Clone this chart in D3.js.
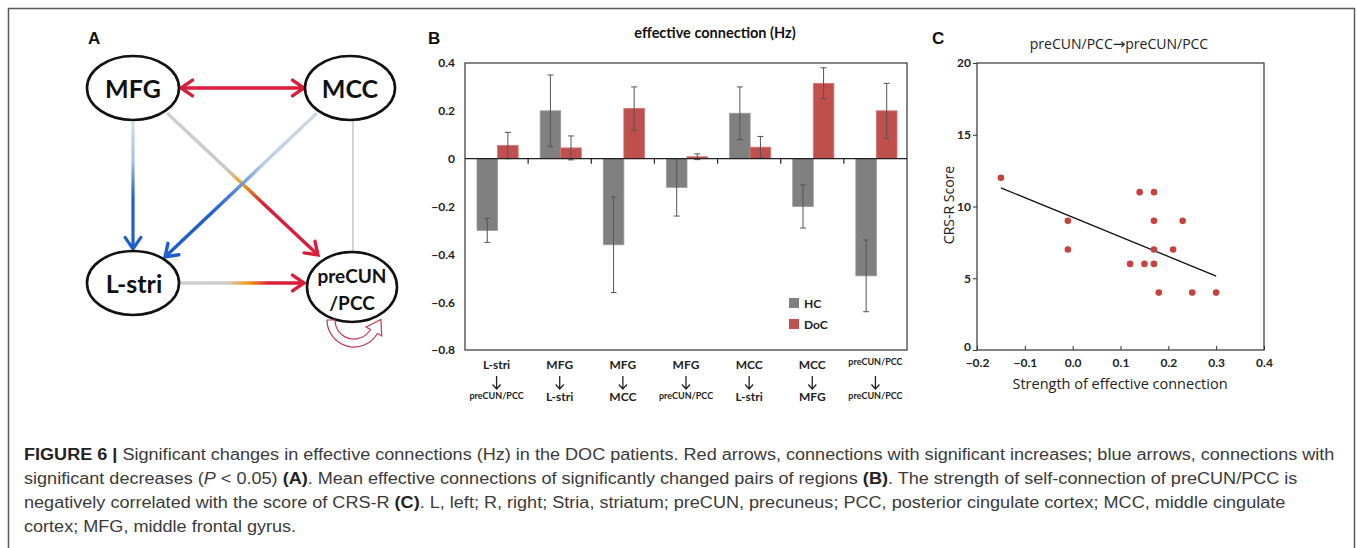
<!DOCTYPE html>
<html>
<head>
<meta charset="utf-8">
<script src="https://cdn.jsdelivr.net/npm/d3@7"></script>
<style>
  html, body { margin: 0; padding: 0; background: #fff; }
  svg { display: block; }
</style>
</head>
<body>
<div id="chart"></div>
<script>
// ---- panel B data ----
const pairFrom = ["L-stri", "MFG", "MFG", "MFG", "MCC", "MCC", "preCUN/PCC"];
const pairTo = ["preCUN/PCC", "L-stri", "MCC", "preCUN/PCC", "L-stri", "MFG", "preCUN/PCC"];
const hcMean = [-0.30, 0.20, -0.36, -0.12, 0.19, -0.20, -0.49];
const hcErr = [0.05, 0.15, 0.20, 0.12, 0.11, 0.09, 0.15];
const docMean = [0.055, 0.045, 0.21, 0.008, 0.048, 0.315, 0.20];
const docErr = [0.055, 0.05, 0.09, 0.012, 0.045, 0.065, 0.115];
const barTicks = [0.4, 0.2, 0, -0.2, -0.4, -0.6, -0.8];
const groups = ["HC", "DoC"];

// ---- panel C data ----
const strength = [-0.15, -0.01, -0.01, 0.12, 0.14, 0.15, 0.17, 0.17, 0.17, 0.17, 0.18, 0.21, 0.23, 0.25, 0.30];
const crsr = [12, 9, 7, 6, 11, 6, 11, 9, 7, 6, 4, 7, 9, 4, 4];
const fitX = [-0.15, 0.30];
const fitY = [11.3, 5.15];
const xTicksC = [-0.2, -0.1, 0.0, 0.1, 0.2, 0.3, 0.4];
const yTicksC = [0, 5, 10, 15, 20];

const W = 1357, H = 548;
const GRAY = "#808080", RED = "#c0504d";
const LABEL_FONT = "Lato, 'Open Sans', sans-serif";
const ARROW_RED = "#d91d3a", ARROW_BLUE = "#1e5fc9";

const svg = d3.select("#chart").append("svg")
  .attr("width", W).attr("height", H)
  .attr("viewBox", `0 0 ${W} ${H}`);
const defs = svg.append("defs");

svg.append("rect").attr("width", W).attr("height", H).attr("fill", "#fff");
svg.append("rect")
  .attr("x", 8.5).attr("y", 8.5).attr("width", 1346).attr("height", 620)
  .attr("fill", "none").attr("stroke", "#5a5a5a").attr("stroke-width", 1.5);

// panel letters
[["A", 88], ["B", 428], ["C", 932]].forEach(([t, x]) => {
  svg.append("text").attr("x", x).attr("y", 44).text(t)
    .attr("font-family", "Liberation Sans, Arial, sans-serif")
    .attr("font-weight", "bold").attr("font-size", 17).attr("fill", "#111");
});

// =================== Panel A: network diagram ===================
const A = svg.append("g");
const nodes = {
  MFG: { x: 133, y: 88, rx: 46, ry: 32 },
  MCC: { x: 350, y: 88, rx: 45, ry: 32 },
  LS: { x: 133, y: 283, rx: 46, ry: 32 },
  PC: { x: 352, y: 287, rx: 45, ry: 35 }
};

let gradId = 0;
function gradLine(x1, y1, x2, y2, stops, width, head) {
  const id = "g" + (gradId++);
  const lg = defs.append("linearGradient").attr("id", id)
    .attr("gradientUnits", "userSpaceOnUse")
    .attr("x1", x1).attr("y1", y1).attr("x2", x2).attr("y2", y2);
  stops.forEach(([o, c]) => lg.append("stop").attr("offset", o).attr("stop-color", c));
  A.append("line").attr("x1", x1).attr("y1", y1).attr("x2", x2).attr("y2", y2)
    .attr("stroke", `url(#${id})`).attr("stroke-width", width);
  if (head) chevron(x2, y2, Math.atan2(y2 - y1, x2 - x1), head, width);
}

function chevron(x, y, ang, color, width) {
  const len = 14, spread = 0.6;
  const p1 = [x - len * Math.cos(ang - spread), y - len * Math.sin(ang - spread)];
  const p2 = [x - len * Math.cos(ang + spread), y - len * Math.sin(ang + spread)];
  A.append("path")
    .attr("d", `M${p1[0]},${p1[1]}L${x},${y}L${p2[0]},${p2[1]}`)
    .attr("fill", "none").attr("stroke", color).attr("stroke-width", width)
    .attr("stroke-linejoin", "miter").attr("stroke-linecap", "round");
}

// MCC - preCUN thin gray
A.append("line").attr("x1", 353).attr("y1", 120).attr("x2", 353).attr("y2", 253)
  .attr("stroke", "#c9c9c9").attr("stroke-width", 1.6);

// MFG -> L-stri (blue)
gradLine(133, 122, 133, 249, [[0, "#cfdcee"], [0.3, "#a9c3e6"], [0.6, ARROW_BLUE], [1, ARROW_BLUE]], 3.2, ARROW_BLUE);
// MFG -> preCUN (gray -> orange -> red)
gradLine(167, 113, 318, 255, [[0, "#d0d0d0"], [0.4, "#c8c8c8"], [0.5, "#f0a010"], [0.64, ARROW_RED], [1, ARROW_RED]], 3.4, ARROW_RED);
// MCC -> L-stri (light -> blue)
gradLine(317, 113, 165, 257, [[0, "#d4d8de"], [0.35, "#b8cdea"], [0.55, "#4f86d4"], [0.7, ARROW_BLUE], [1, ARROW_BLUE]], 3.4, ARROW_BLUE);
// L-stri -> preCUN
gradLine(180, 283, 304, 283, [[0, "#cfcfcf"], [0.38, "#cdcdcd"], [0.55, "#f0a010"], [0.72, ARROW_RED], [1, ARROW_RED]], 3.4, ARROW_RED);
// MFG <-> MCC
A.append("line").attr("x1", 181).attr("y1", 88).attr("x2", 304).attr("y2", 88)
  .attr("stroke", ARROW_RED).attr("stroke-width", 3.4);
chevron(304, 88, 0, ARROW_RED, 3.4);
chevron(181, 88, Math.PI, ARROW_RED, 3.4);

// ellipses
Object.values(nodes).forEach(n => {
  A.append("ellipse").attr("cx", n.x).attr("cy", n.y).attr("rx", n.rx).attr("ry", n.ry)
    .attr("fill", "#fff").attr("stroke", "#111").attr("stroke-width", 2.6);
});
function nodeText(x, y, t, size) {
  A.append("text").attr("x", x).attr("y", y).text(t)
    .attr("text-anchor", "middle").attr("dominant-baseline", "central")
    .attr("font-family", LABEL_FONT).attr("font-weight", "bold")
    .attr("font-size", size).attr("fill", "#111");
}
nodeText(133, 88, "MFG", 25);
nodeText(350, 88, "MCC", 25);
nodeText(134, 283, "L-stri", 25);
nodeText(352, 275, "preCUN", 19);
nodeText(352, 302, "/PCC", 19);

// self-connection loop (hollow curved arrow)
(function () {
  const cx = 354, cy = 320, ro = 27, ri = 19, a0 = Math.PI, a1 = Math.PI / 6;
  const pt = (r, a) => [cx + r * Math.cos(a), cy + r * Math.sin(a)];
  const o0 = pt(ro, a0), o1 = pt(ro, a1), i1 = pt(ri, a1), i0 = pt(ri, a0);
  const bo = pt(ro + 5, a1), bi = pt(ri - 5, a1), mid = pt((ro + ri) / 2, a1);
  const tip = [mid[0] + 14 * Math.sin(a1), mid[1] - 14 * Math.cos(a1)];
  const d = `M${o0}A${ro},${ro} 0 0 0 ${o1}L${bo}L${tip}L${bi}L${i1}A${ri},${ri} 0 0 1 ${i0}Z`;
  A.append("path").attr("d", d).attr("fill", "#fff")
    .attr("stroke", "#c23a50").attr("stroke-width", 1.2);
})();

// =================== Panel B: bar chart ===================
const bL = 465, bR = 907, bT = 63, bB = 350;
const xB = d3.scaleBand().domain(d3.range(pairFrom.length)).range([bL, bR]);
const xSub = d3.scaleBand().domain(groups).range([12, xB.bandwidth() - 10]);
const yB = d3.scaleLinear().domain([-0.8, 0.4]).range([bB, bT]);
const B = svg.append("g");

B.append("text").attr("x", 715).attr("y", 38).text("effective connection (Hz)")
  .attr("text-anchor", "middle").attr("font-family", LABEL_FONT)
  .attr("font-weight", "bold").attr("font-size", 14.5).attr("fill", "#111");

const barData = [];
pairFrom.forEach((p, i) => {
  barData.push({ i, g: "HC", v: hcMean[i], e: hcErr[i] });
  barData.push({ i, g: "DoC", v: docMean[i], e: docErr[i] });
});

B.selectAll("rect.bar").data(barData).join("rect")
  .attr("class", "bar")
  .attr("x", d => xB(d.i) + xSub(d.g))
  .attr("width", xSub.bandwidth())
  .attr("y", d => yB(Math.max(0, d.v)))
  .attr("height", d => Math.abs(yB(d.v) - yB(0)))
  .attr("fill", d => d.g === "HC" ? GRAY : RED)
  .attr("stroke", d => d.g === "HC" ? "#9a9a9a" : "#d27370").attr("stroke-width", 0.8);

// error bars
const eb = B.selectAll("g.err").data(barData).join("g").attr("class", "err")
  .attr("transform", d => `translate(${xB(d.i) + xSub(d.g) + xSub.bandwidth() / 2},0)`);
eb.append("line").attr("y1", d => yB(d.v + d.e)).attr("y2", d => yB(d.v - d.e))
  .attr("stroke", "#555").attr("stroke-width", 1);
eb.append("line").attr("x1", -3).attr("x2", 3).attr("y1", d => yB(d.v + d.e)).attr("y2", d => yB(d.v + d.e))
  .attr("stroke", "#555").attr("stroke-width", 1);
eb.append("line").attr("x1", -3).attr("x2", 3).attr("y1", d => yB(d.v - d.e)).attr("y2", d => yB(d.v - d.e))
  .attr("stroke", "#555").attr("stroke-width", 1);

// frame + zero line
B.append("rect").attr("x", bL).attr("y", bT).attr("width", bR - bL).attr("height", bB - bT)
  .attr("fill", "none").attr("stroke", "#333").attr("stroke-width", 1.2);
B.append("line").attr("x1", bL).attr("x2", bR).attr("y1", yB(0)).attr("y2", yB(0))
  .attr("stroke", "#222").attr("stroke-width", 1.2);
B.selectAll("line.cat").data(d3.range(1, pairFrom.length)).join("line")
  .attr("class", "cat")
  .attr("x1", d => xB(d)).attr("x2", d => xB(d))
  .attr("y1", yB(0)).attr("y2", yB(0) + 5)
  .attr("stroke", "#222").attr("stroke-width", 1.2);

// y axis labels
const yAxisB = d3.axisLeft(yB).tickValues(barTicks).tickSize(0).tickPadding(10)
  .tickFormat(d => d === 0 ? "0" : d3.format(".1f")(d));
B.append("g").attr("transform", `translate(${bL},0)`).call(yAxisB)
  .call(g => g.select(".domain").remove())
  .call(g => g.selectAll("text").attr("font-family", LABEL_FONT)
    .attr("font-weight", "bold").attr("font-size", 12).attr("fill", "#222"));

// category labels
const catG = B.selectAll("g.catlab").data(d3.range(pairFrom.length)).join("g")
  .attr("class", "catlab")
  .attr("transform", i => `translate(${xB(i) + xB.bandwidth() / 2},0)`)
  .attr("font-family", LABEL_FONT).attr("font-weight", "bold").attr("fill", "#222")
  .attr("text-anchor", "middle");
catG.append("text").attr("y", i => pairFrom[i].length > 6 ? 365 : 369)
  .attr("font-size", i => pairFrom[i].length > 6 ? 9 : 12).text(i => pairFrom[i]);
catG.append("path").attr("d", "M0,376V389M-4,384.5L0,389L4,384.5")
  .attr("fill", "none").attr("stroke", "#222").attr("stroke-width", 1.3);
catG.append("text").attr("y", i => pairTo[i].length > 6 ? 399 : 401)
  .attr("font-size", i => pairTo[i].length > 6 ? 9 : 12).text(i => pairTo[i]);

// legend
const leg = B.selectAll("g.leg").data(groups).join("g").attr("class", "leg")
  .attr("transform", (d, i) => `translate(789,${298 + i * 21})`);
leg.append("rect").attr("width", 10).attr("height", 10)
  .attr("fill", d => d === "HC" ? GRAY : RED);
leg.append("text").attr("x", 15).attr("y", 5).attr("dominant-baseline", "central")
  .attr("font-family", LABEL_FONT).attr("font-weight", "bold").attr("font-size", 12)
  .attr("fill", "#222").text(d => d);

// =================== Panel C: scatter ===================
const cL = 977, cR = 1264, cT = 63, cB = 350;
const xC = d3.scaleLinear().domain([-0.2, 0.4]).range([cL, cR]);
const yC = d3.scaleLinear().domain([0, 20]).range([cB, cT]);
const C = svg.append("g");

const cTitle = C.append("text").attr("x", 1119).attr("y", 49)
  .attr("text-anchor", "middle").attr("font-family", "'Open Sans', sans-serif")
  .attr("font-size", 14).attr("fill", "#222");
cTitle.append("tspan").text("preCUN/PCC");
cTitle.append("tspan").attr("font-family", "'DejaVu Sans', sans-serif").attr("font-size", 15).text("→");
cTitle.append("tspan").text("preCUN/PCC");

C.append("rect").attr("x", cL).attr("y", cT).attr("width", cR - cL).attr("height", cB - cT)
  .attr("fill", "none").attr("stroke", "#333").attr("stroke-width", 1.2);

C.append("g").attr("transform", `translate(0,${cB})`)
  .call(d3.axisBottom(xC).tickValues(xTicksC).tickSizeInner(-4).tickSizeOuter(0).tickPadding(8)
    .tickFormat(d3.format(".1f")))
  .call(g => g.select(".domain").remove())
  .call(g => g.selectAll("line").attr("stroke", "#333"))
  .call(g => g.selectAll("text").attr("font-family", LABEL_FONT)
    .attr("font-weight", "bold").attr("font-size", 12).attr("fill", "#222"));

C.append("g").attr("transform", `translate(${cL},0)`)
  .call(d3.axisLeft(yC).tickValues(yTicksC).tickSizeInner(4).tickSizeOuter(0).tickPadding(2))
  .call(g => g.select(".domain").remove())
  .call(g => g.selectAll("line").attr("stroke", "#333"))
  .call(g => g.selectAll("text").attr("font-family", LABEL_FONT)
    .attr("font-weight", "bold").attr("font-size", 12).attr("fill", "#222")
    .attr("dy", d => d === 0 ? "0.05em" : "0.32em"));

C.append("line")
  .attr("x1", xC(fitX[0])).attr("y1", yC(fitY[0]))
  .attr("x2", xC(fitX[1])).attr("y2", yC(fitY[1]))
  .attr("stroke", "#111").attr("stroke-width", 1.3);

C.selectAll("circle.pt").data(strength.map((s, i) => [s, crsr[i]])).join("circle")
  .attr("class", "pt")
  .attr("cx", d => xC(d[0])).attr("cy", d => yC(d[1])).attr("r", 3.3)
  .attr("fill", "#c9413f");

C.append("text").attr("transform", "translate(954,205) rotate(-90)")
  .attr("text-anchor", "middle").attr("font-family", "'Open Sans', sans-serif")
  .attr("font-size", 14).attr("fill", "#222").text("CRS-R Score");
C.append("text").attr("x", 1120).attr("y", 389)
  .attr("text-anchor", "middle").attr("font-family", "'Open Sans', sans-serif")
  .attr("font-size", 14.5).attr("fill", "#222").text("Strength of effective connection");

// =================== Caption ===================
const CAP_FONT = "'Liberation Sans', Arial, sans-serif";
const capLines = [
  { y: 460, parts: [["FIGURE 6 |", "b"], [" Significant changes in effective connections (Hz) in the DOC patients. Red arrows, connections with significant increases; blue arrows, connections with", ""]] },
  { y: 484, parts: [["significant decreases (", ""], ["P", "i"], [" < 0.05) ", ""], ["(A)", "b"], [". Mean effective connections of significantly changed pairs of regions ", ""], ["(B)", "b"], [". The strength of self-connection of preCUN/PCC is", ""]] },
  { y: 508, parts: [["negatively correlated with the score of CRS-R ", ""], ["(C)", "b"], [". L, left; R, right; Stria, striatum; preCUN, precuneus; PCC, posterior cingulate cortex; MCC, middle cingulate", ""]] },
  { y: 532, parts: [["cortex; MFG, middle frontal gyrus.", ""]] }
];
const capOuter = svg.append("g").attr("transform", "translate(24,0)");
const capG = capOuter.append("g").attr("font-family", CAP_FONT).attr("font-size", 16).attr("fill", "#3a3a3a");
const capTexts = capLines.map(l => {
  const t = capG.append("text").attr("x", 0).attr("y", l.y);
  l.parts.forEach(([s, st]) => {
    const ts = t.append("tspan").text(s);
    if (st === "b") ts.attr("font-weight", "bold").attr("fill", "#222");
    if (st === "i") ts.attr("font-style", "italic");
  });
  return t;
});
// condense horizontally so the first line spans the same width as the reference
const k = 1311 / capTexts[0].node().getComputedTextLength();
capG.attr("transform", `scale(${k},1)`);
</script>
</body>
</html>
